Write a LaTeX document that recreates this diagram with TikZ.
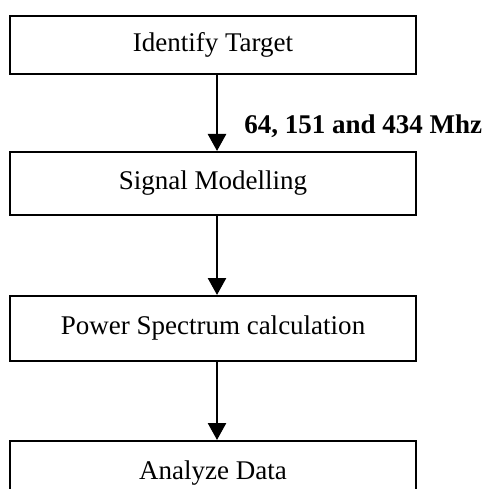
\documentclass[tikz,border=0pt]{standalone}
\usepackage{fontspec}
\setmainfont{Liberation Serif}
\usetikzlibrary{arrows.meta,positioning}
\begin{document}
\begin{tikzpicture}[font=\fontsize{27}{32}\selectfont,>={Triangle[width=18pt,length=17pt]},
stage/.style={draw,line width=2pt,minimum width=406pt,inner sep=0pt},
arr/.style={->,line width=2.6pt}]
\clip (0,0) rectangle (485pt,-489pt);
\node[stage,minimum height=58pt] (target) at (213pt,-45pt) {Identify Target};
\node[stage,minimum height=63pt,below=76pt of target] (model) {Signal Modelling};
\node[stage,minimum height=65pt,below=79pt of model] (spectrum) {Power Spectrum calculation};
\node[stage,minimum height=65pt,below=78pt of spectrum] (analyze) {Analyze Data};
\draw[arr] ([xshift=4pt]target.south)--node[pos=0.67,anchor=west,xshift=26pt,inner sep=0pt,font=\fontsize{27}{32}\selectfont\bfseries]{64, 151 and 434 Mhz}([xshift=4pt]model.north);
\draw[arr] ([xshift=4pt]model.south)--([xshift=4pt]spectrum.north);
\draw[arr] ([xshift=4pt]spectrum.south)--([xshift=4pt]analyze.north);
\end{tikzpicture}
\end{document}
